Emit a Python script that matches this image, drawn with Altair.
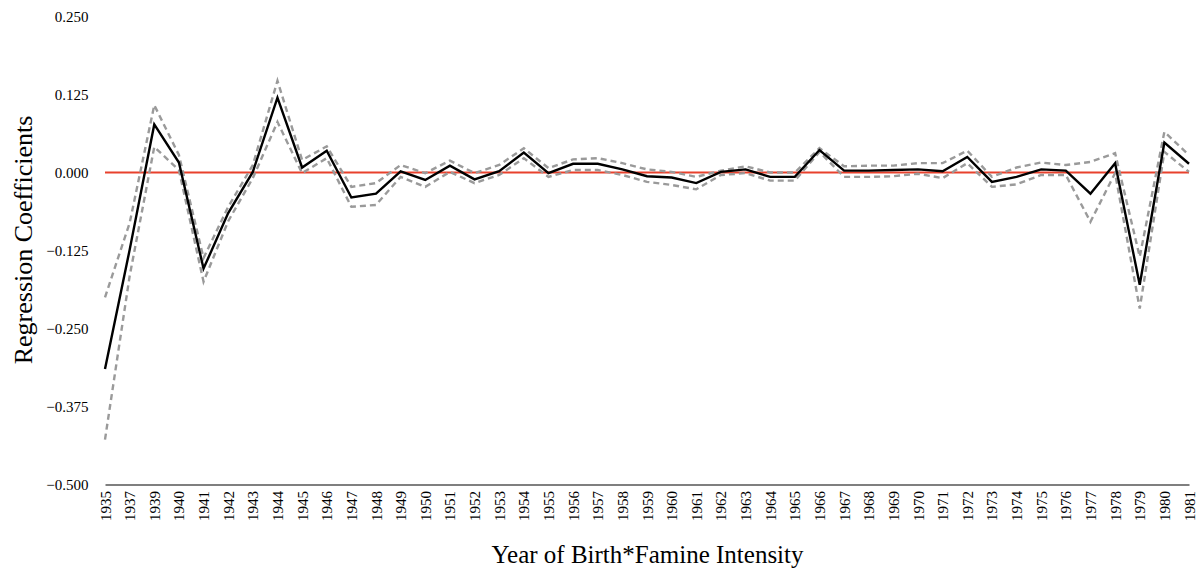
import altair as alt
import pandas as pd

years = ["1935", "1937", "1939"] + [str(y) for y in range(1940, 1982)]

coef = [-0.315, -0.124, 0.077, 0.016, -0.154, -0.065, 0.001, 0.120, 0.008, 0.035,
        -0.040, -0.034, 0.002, -0.012, 0.011, -0.011, 0.002, 0.032, -0.001, 0.014,
        0.014, 0.005, -0.006, -0.008, -0.017, 0.001, 0.005, -0.007, -0.007, 0.036,
        0.003, 0.003, 0.004, 0.005, 0.002, 0.025, -0.015, -0.007, 0.005, 0.003,
        -0.034, 0.015, -0.180, 0.048, 0.014]

upper = [-0.200, -0.081, 0.108, 0.028, -0.137, -0.055, 0.012, 0.147, 0.020, 0.042,
         -0.023, -0.017, 0.012, -0.001, 0.019, -0.001, 0.012, 0.039, 0.007, 0.021,
         0.023, 0.015, 0.005, 0.001, -0.007, 0.003, 0.010, 0.000, 0.000, 0.039,
         0.010, 0.011, 0.011, 0.015, 0.015, 0.035, -0.007, 0.008, 0.016, 0.012,
         0.017, 0.031, -0.135, 0.065, 0.028]

lower = [-0.428, -0.166, 0.041, 0.004, -0.175, -0.078, -0.009, 0.081, -0.001, 0.023,
         -0.055, -0.052, -0.007, -0.023, 0.001, -0.017, -0.004, 0.023, -0.007, 0.004,
         0.004, -0.004, -0.015, -0.020, -0.027, -0.004, -0.001, -0.013, -0.013, 0.033,
         -0.007, -0.007, -0.006, -0.002, -0.009, 0.015, -0.023, -0.019, -0.004, -0.004,
         -0.079, -0.001, -0.218, 0.033, 0.001]

y_ticks = [-0.5, -0.375, -0.25, -0.125, 0.0, 0.125, 0.25]

df = pd.DataFrame({"year": years, "coef": coef, "upper": upper, "lower": lower,
                   "zero": [0.0] * len(years)})

FONT = "Liberation Serif"

x_enc = alt.X("year:O", sort=years,
              scale=alt.Scale(type="point", padding=0),
              axis=alt.Axis(title="Year of Birth*Famine Intensity",
                            labelAngle=270, labelAlign="right", labelBaseline="middle",
                            labelFontSize=15, labelFont=FONT, labelColor="black",
                            labelPadding=6, ticks=False, domainColor="black",
                            domainWidth=1.2, titleFont=FONT, titleFontSize=25,
                            titleFontWeight="normal", titleColor="black",
                            titlePadding=22, grid=False))

y_scale = alt.Scale(domain=[-0.5, 0.25], nice=False, zero=False)
y_axis = alt.Axis(title="Regression Coefficients", values=y_ticks, format=".3f",
                  labelFontSize=15, labelFont=FONT, labelColor="black",
                  labelPadding=17, ticks=False, domain=False, grid=False,
                  titleFont=FONT, titleFontSize=26, titleFontWeight="normal",
                  titleColor="black", titlePadding=9, titleY=223)

base = alt.Chart(df)

zero_line = base.mark_line(color="#e8412c", strokeWidth=2.2).encode(
    x=x_enc, y=alt.Y("zero:Q", scale=y_scale, axis=y_axis))
up_line = base.mark_line(color="#9a9a9a", strokeWidth=2.4, strokeDash=[6, 4]).encode(
    x=x_enc, y=alt.Y("upper:Q", scale=y_scale, axis=y_axis))
lo_line = base.mark_line(color="#9a9a9a", strokeWidth=2.4, strokeDash=[6, 4]).encode(
    x=x_enc, y=alt.Y("lower:Q", scale=y_scale, axis=y_axis))
main_line = base.mark_line(color="black", strokeWidth=2.4).encode(
    x=x_enc, y=alt.Y("coef:Q", scale=y_scale, axis=y_axis))

chart = alt.layer(zero_line, up_line, lo_line, main_line).properties(
    width=1084, height=468,
    background="white",
    autosize=alt.AutoSizeParams(type="none"),
    padding={"left": 97, "top": 8.5, "right": 7, "bottom": 86},
).configure_view(stroke="transparent", strokeWidth=0)

chart.save("out.html", embed_options={"renderer": "svg", "actions": False})
